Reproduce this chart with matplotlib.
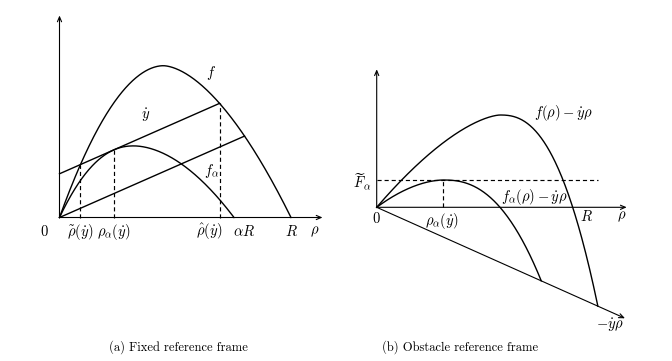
import matplotlib
matplotlib.use("Agg")
import matplotlib.pyplot as plt
import numpy as np

plt.rcParams['mathtext.fontset'] = 'cm'
plt.rcParams['font.family'] = ['cmr10', 'DejaVu Serif']
plt.rcParams['axes.unicode_minus'] = False

W, H = 672, 361

# shape of each hump: [peak position, peak height, root, left exponent, right exponent]
flux_a = [103.8, 151.8, 231.5, 1.9, 1.7]
flux_alpha_a = [74.3, 71.6, 174.5, 2.2, 1.85]
ydot_a = 0.44

rel_flux_b = [123.3, 92.3, 196.0, 1.55, 2.45]
rel_flux_alpha_b = [66.6, 27.3, 123.3, 1.8, 2.39]
ydot_b = 0.447

captions = ['(a) Fixed reference frame', '(b) Obstacle reference frame']

LW = 1.0
DASH = (0, (3.5, 2.5))
MATH = 10.5


def hump(rho, shape):
    peak, height, root, nl, nr = shape
    rho = np.asarray(rho, float)
    left = height * (1 - np.abs((peak - rho) / peak) ** nl)
    right = height * (1 - np.abs((rho - peak) / (root - peak)) ** nr)
    return np.where(rho < peak, left, right)


def bisect(fun, lo, hi, n=80):
    flo = fun(lo)
    for _ in range(n):
        mid = 0.5 * (lo + hi)
        fm = fun(mid)
        if np.sign(fm) == np.sign(flo):
            lo, flo = mid, fm
        else:
            hi = mid
    return 0.5 * (lo + hi)


def panel(fig, ox, oy, left, right):
    ax = fig.add_axes([left / W, 0, (right - left) / W, 1])
    ax.set_xlim(left - ox, right - ox)
    ax.set_ylim(oy - H, oy)
    ax.axis('off')
    return ax


def arrow(ax, x0, y0, x1, y1):
    ax.annotate('', xy=(x1, y1), xytext=(x0, y0),
                arrowprops=dict(arrowstyle='->,head_length=0.35,head_width=0.15',
                                lw=0.8, color='k', shrinkA=0, shrinkB=0))


fig = plt.figure(figsize=(W / 100, H / 100), dpi=100)

# ---------------- (a) fixed reference frame ----------------
ax = panel(fig, 59.5, 217.5, 0, 336)
arrow(ax, 0, 0, 263, 0)
arrow(ax, 0, 0, 0, 202)

R = flux_a[2]
aR = flux_alpha_a[2]
r = np.linspace(0, R, 400)
ax.plot(r, hump(r, flux_a), 'k', lw=LW)
r = np.linspace(0, aR, 400)
ax.plot(r, hump(r, flux_alpha_a), 'k', lw=LW)

# tangent point of the slope-ydot line with f_alpha
pk, hh, _, nl, _ = flux_alpha_a
s = (ydot_a * pk / (hh * nl)) ** (1 / (nl - 1))
rho_alpha = pk * (1 - s)
b0 = float(hump(rho_alpha, flux_alpha_a)) - ydot_a * rho_alpha

line = lambda x: b0 + ydot_a * x
rho_tilde = bisect(lambda x: hump(x, flux_a) - line(x), 1e-6, flux_a[0])
rho_hat = bisect(lambda x: hump(x, flux_a) - line(x), flux_a[0], R)
rho_low = bisect(lambda x: hump(x, flux_a) - ydot_a * x, flux_a[0], R)

ax.plot([0, rho_hat], [b0, line(rho_hat)], 'k', lw=LW)
ax.plot([0, rho_low], [0, ydot_a * rho_low], 'k', lw=LW)
for x in [rho_tilde, rho_alpha, rho_hat]:
    ax.plot([x, x], [0, line(x)], 'k', lw=0.85, ls=DASH)

ly = -14.5
ax.text(-15.5, ly, '$0$', fontsize=MATH, ha='center', va='center')
ax.text(rho_tilde, ly, r'$\tilde{\rho}(\dot{y})$', fontsize=MATH, ha='center', va='center')
ax.text(rho_alpha, ly, r'$\rho_\alpha(\dot{y})$', fontsize=MATH, ha='center', va='center')
ax.text(rho_hat - 10, ly, r'$\hat{\rho}(\dot{y})$', fontsize=MATH, ha='center', va='center')
ax.text(aR + 10, ly, r'$\alpha R$', fontsize=MATH, ha='center', va='center')
ax.text(R, ly, '$R$', fontsize=MATH, ha='center', va='center')
ax.text(255.5, ly, r'$\rho$', fontsize=MATH, ha='center', va='center')
ax.text(86, 102, r'$\dot{y}$', fontsize=MATH, ha='center', va='center')
ax.text(152, 144, '$f$', fontsize=MATH, ha='center', va='center')
ax.text(152, 46, r'$f_\alpha$', fontsize=MATH, ha='center', va='center')

# ---------------- (b) obstacle reference frame ----------------
ax = panel(fig, 376.7, 207.3, 336, 672)
arrow(ax, 0, 0, 250, 0)
arrow(ax, 0, 0, 0, 138)
arrow(ax, 0, 0, 248.3, -ydot_b * 248.3)

Rb = bisect(lambda x: hump(x, rel_flux_b) + ydot_b * x, rel_flux_b[2], 300)
aRb = bisect(lambda x: hump(x, rel_flux_alpha_b) + ydot_b * x, rel_flux_alpha_b[2], 300)
r = np.linspace(0, Rb, 400)
ax.plot(r, hump(r, rel_flux_b), 'k', lw=LW)
r = np.linspace(0, aRb, 400)
ax.plot(r, hump(r, rel_flux_alpha_b), 'k', lw=LW)

rho_ab, F_ab = rel_flux_alpha_b[0], rel_flux_alpha_b[1]
ax.plot([0, Rb], [F_ab, F_ab], 'k', lw=0.85, ls=DASH)
ax.plot([rho_ab, rho_ab], [0, F_ab], 'k', lw=0.85, ls=DASH)

ax.text(0, -11, '$0$', fontsize=MATH, ha='center', va='center')
ax.text(rho_ab - 1, -13.7, r'$\rho_\alpha(\dot{y})$', fontsize=MATH, ha='center', va='center')
ax.text(-15, 25.6, r'$\widetilde{F}_\alpha$', fontsize=MATH, ha='center', va='center')
ax.text(158, 10.6, r'$f_\alpha(\rho)-\dot{y}\rho$', fontsize=MATH, ha='center', va='center')
ax.text(186.6, 94, r'$f(\rho)-\dot{y}\rho$', fontsize=MATH, ha='center', va='center')
ax.text(210, -9.4, '$R$', fontsize=MATH, ha='center', va='center')
ax.text(245, -9.4, r'$\rho$', fontsize=MATH, ha='center', va='center')
ax.text(233.3, -117.7, r'$-\dot{y}\rho$', fontsize=MATH, ha='center', va='center')

fig.text(178.3 / W, 1 - 347.3 / H, captions[0], fontsize=9, ha='center', va='center')
fig.text(460 / W, 1 - 347.3 / H, captions[1], fontsize=9, ha='center', va='center')

fig.savefig('out.png', dpi=100)
